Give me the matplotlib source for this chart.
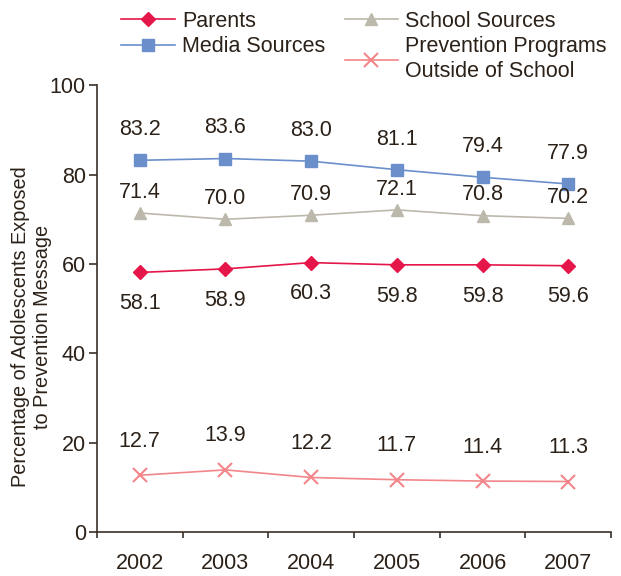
import matplotlib
matplotlib.use("Agg")
import matplotlib.pyplot as plt
import numpy as np

years = ["2002", "2003", "2004", "2005", "2006", "2007"]
parents = [58.1, 58.9, 60.3, 59.8, 59.8, 59.6]
media = [83.2, 83.6, 83.0, 81.1, 79.4, 77.9]
school = [71.4, 70.0, 70.9, 72.1, 70.8, 70.2]
prevention = [12.7, 13.9, 12.2, 11.7, 11.4, 11.3]

TXT = "#2b2118"
FS = 15.5
plt.rcParams['font.family'] = ['Liberation Sans', 'DejaVu Sans']
plt.rcParams['text.color'] = TXT

fig = plt.figure(figsize=(6.21, 5.76), dpi=100)
ax = fig.add_axes([0.156, 0.0764, 0.828, 0.7756])

x = np.arange(len(years))
series = [
    ("Parents", parents, "#e5164a", "D", 7, -22.5),
    ("Media Sources", media, "#6b8fcb", "s", 8, 22),
    ("School Sources", school, "#bcb8ab", "^", 9, 15),
    ("Prevention Programs\nOutside of School", prevention, "#f2868a", "x", 10, 24.5),
]
handles = {}
for name, vals, col, mk, ms, off in series:
    kw = dict(markeredgewidth=1.5) if mk == "x" else dict(markeredgecolor=col)
    h, = ax.plot(x, vals, color=col, marker=mk, markersize=ms, lw=1.2,
                 markerfacecolor=col, label=name, **kw)
    handles[name] = h
    for xi, v in zip(x, vals):
        ax.annotate(f"{v:.1f}", (xi, v), xytext=(0, off), textcoords="offset points",
                    ha="center", va="center", fontsize=FS, color=TXT)

ax.set_xlim(-0.5, len(years) - 0.5)
ax.set_ylim(0, 100)
ax.set_yticks([0, 20, 40, 60, 80, 100])
ax.set_xticks(np.arange(-0.5, len(years), 1.0))
ax.set_xticklabels([])
ax.set_xticks(x, minor=True)
ax.set_xticklabels(years, minor=True)
ax.tick_params(axis='x', which='minor', length=0, pad=15, labelsize=FS, labelcolor=TXT)
ax.tick_params(axis='x', which='major', length=4.5, width=1.2, color="#3a3028", direction='out')
ax.tick_params(axis='y', length=6, width=1.2, color="#3a3028", labelsize=FS, labelcolor=TXT, pad=2)
for s in ["top", "right"]:
    ax.spines[s].set_visible(False)
for s in ["left", "bottom"]:
    ax.spines[s].set_color("#3a3028")
    ax.spines[s].set_linewidth(1.2)

ax.set_ylabel("Percentage of Adolescents Exposed\nto Prevention Message", fontsize=14.3,
              color=TXT, linespacing=1.2)
ax.yaxis.set_label_coords(-0.088, 0.46)

order = ["Parents", "Media Sources", "School Sources", "Prevention Programs\nOutside of School"]
leg = fig.legend([handles[n] for n in order], order, ncol=2, loc="upper left",
                 bbox_to_anchor=(121 / 621, 1 - 11 / 576), frameon=False, fontsize=FS,
                 handlelength=2.5, columnspacing=0.9, handletextpad=0.33,
                 labelspacing=0.2, borderpad=0, borderaxespad=0)
for t in leg.get_texts():
    t.set_color(TXT)
    t.set_linespacing(1.25)

fig.savefig("out.png", dpi=100)
